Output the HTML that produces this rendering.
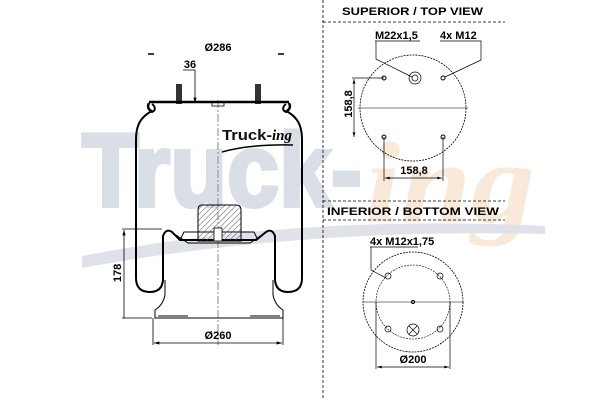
<!DOCTYPE html>
<html><head><meta charset="utf-8"><style>
html,body{margin:0;padding:0;background:#fff;width:600px;height:400px;overflow:hidden}
svg{display:block}
text{font-family:"Liberation Sans",sans-serif;font-weight:bold}
</style></head><body>
<svg width="600" height="400" viewBox="0 0 600 400" xmlns="http://www.w3.org/2000/svg">
<defs>
<pattern id="h" width="4" height="4" patternUnits="userSpaceOnUse" patternTransform="rotate(45)">
<line x1="0" y1="0" x2="0" y2="4" stroke="#555" stroke-width="1"/></pattern>
<marker id="a" viewBox="0 0 10 6" refX="10" refY="3" markerWidth="7" markerHeight="4" orient="auto-start-reverse"><path d="M0 0L10 3L0 6z" fill="#000"/></marker>
</defs>
<!-- watermark -->
<text x="82" y="206" font-size="104" fill="#dadee6" stroke="#dadee6" stroke-width="4" textLength="280" lengthAdjust="spacingAndGlyphs">Truck-</text>
<text x="365" y="222" font-size="115" font-style="italic" fill="#f8e9d8" textLength="170" lengthAdjust="spacingAndGlyphs" style="font-family:'Liberation Serif',serif">ing</text>
<path d="M82 256 Q300 214 545 226 L545 234 Q300 228 82 268 Z" fill="#dfe2e8"/>
<!-- center line -->
<line x1="218" y1="100" x2="218" y2="345" stroke="#888" stroke-width="1" stroke-dasharray="8 2 2 2"/>
<!-- dimension top -->
<text x="218" y="51" font-size="11" text-anchor="middle">Ø286</text>
<path d="M148 54h6M284 54h-6" stroke="#000" stroke-width="1.5"/>
<text x="190" y="68" font-size="11" text-anchor="middle">36</text>
<path d="M183 70h12v33" stroke="#000" fill="none" stroke-width="0.8" marker-end="url(#a)"/>
<!-- bolts -->
<rect x="176" y="84" width="6" height="20" fill="#333"/>
<rect x="255" y="84" width="6" height="20" fill="#333"/>
<!-- top plate -->
<path d="M149 102H289" stroke="#000" stroke-width="2.5"/>
<path d="M212 103v3h12v-3" stroke="#000" fill="none" stroke-width="0.8"/>
<!-- bellow -->
<path d="M152 104 C156 107,156 112,150 112 C140 118,136 126,136 140 V278 Q136 292,150 292 Q162 292,163 280" stroke="#000" fill="none" stroke-width="2"/>
<path d="M286 104 C282 107,282 112,288 112 C298 118,302 126,302 140 V278 Q302 292,288 292 Q276 292,275 280" stroke="#000" fill="none" stroke-width="2"/>
<path d="M149 103 q-3 6 4 9M289 103 q3 6 -4 9" stroke="#000" fill="none" stroke-width="2.5"/>
<!-- piston -->
<path d="M163 280 V236 Q166 228,172 232 L180 240 L256 240 L266 232 Q272 228,275 236 V280" stroke="#000" fill="none" stroke-width="2"/>
<path d="M176 235 L188 243 H250 L262 235 M180 240 L184 232 H254 L258 240" stroke="#000" fill="none" stroke-width="1"/>
<path d="M165 295 Q163 305,155 310 V318 H283 V310 Q275 305,273 295 V280 M165 280 V295" stroke="#000" fill="none" stroke-width="1"/>
<path d="M158 316h30M250 316h30" stroke="#000" stroke-width="1"/>
<!-- bumper -->
<path d="M202 205 H236 Q241 205 241 210 V241 H198 V210 Q198 205 202 205Z" fill="url(#h)" stroke="#000" stroke-width="1"/>
<rect x="214" y="228" width="8" height="13" fill="#fff" stroke="#000" stroke-width="0.8"/>
<!-- logo -->
<text x="222" y="140" font-size="15" fill="#111" textLength="50" lengthAdjust="spacingAndGlyphs">Truck-</text>
<text x="272" y="140" font-size="15" font-style="italic" font-weight="normal" style="font-family:'Liberation Serif',serif">ing</text>
<path d="M222 152 Q250 144 293 145" stroke="#000" fill="none" stroke-width="1.5"/>
<!-- 178 -->
<path d="M122 229h40" stroke="#000" stroke-width="0.8"/>
<path d="M122 318h30" stroke="#000" stroke-width="0.8"/>
<line x1="124" y1="318" x2="124" y2="230" stroke="#000" stroke-width="0.8" marker-end="url(#a)"/>
<text transform="translate(121,273) rotate(-90)" font-size="11" text-anchor="middle">178</text>
<!-- 260 -->
<path d="M153 318v27M283 318v27" stroke="#000" stroke-width="0.8"/>
<line x1="154" y1="343" x2="282" y2="343" stroke="#000" stroke-width="0.8" marker-start="url(#a)" marker-end="url(#a)"/>
<text x="218" y="339" font-size="11" text-anchor="middle">Ø260</text>
<!-- right panel -->
<line x1="323" y1="0" x2="323" y2="400" stroke="#000" stroke-width="0.8" stroke-dasharray="3 2"/>
<text x="342" y="15" font-size="11" textLength="141" lengthAdjust="spacingAndGlyphs">SUPERIOR / TOP VIEW</text>
<line x1="323" y1="22" x2="505" y2="22" stroke="#000" stroke-width="0.8" stroke-dasharray="3 2"/>
<circle cx="413" cy="108" r="53" fill="none" stroke="#000" stroke-width="0.8" stroke-dasharray="2 1"/>
<line x1="358" y1="108" x2="468" y2="108" stroke="#000" stroke-width="0.6"/>
<circle cx="384" cy="78" r="2" fill="none" stroke="#000"/><circle cx="443" cy="78" r="2" fill="none" stroke="#000"/>
<circle cx="384" cy="137" r="2" fill="none" stroke="#000"/><circle cx="443" cy="137" r="2" fill="none" stroke="#000"/>
<circle cx="415" cy="78" r="6" fill="none" stroke="#000" stroke-width="0.7"/><circle cx="415" cy="78" r="3" fill="none" stroke="#000" stroke-width="0.7"/>
<text x="375" y="39" font-size="11">M22x1,5</text>
<text x="440" y="39" font-size="11">4x M12</text>
<path d="M375 41h45M376 41v18l36 18M440 41h41v19l-36 17" stroke="#000" fill="none" stroke-width="0.7"/>
<path d="M352 78h32" stroke="#000" stroke-width="0.7"/>
<line x1="354" y1="79" x2="354" y2="137" stroke="#000" stroke-width="0.7" marker-start="url(#a)" marker-end="url(#a)"/>
<text transform="translate(352,104) rotate(-90)" font-size="11" text-anchor="middle">158,8</text>
<path d="M384 137v44M443 137v44" stroke="#000" stroke-width="0.7"/>
<line x1="385" y1="178" x2="442" y2="178" stroke="#000" stroke-width="0.7" marker-start="url(#a)" marker-end="url(#a)"/>
<text x="414" y="174" font-size="11" text-anchor="middle">158,8</text>
<line x1="323" y1="201" x2="505" y2="201" stroke="#000" stroke-width="0.8" stroke-dasharray="3 2"/>
<text x="327" y="215" font-size="11" textLength="172" lengthAdjust="spacingAndGlyphs">INFERIOR / BOTTOM VIEW</text>
<line x1="323" y1="220" x2="505" y2="220" stroke="#000" stroke-width="0.8" stroke-dasharray="3 2"/>
<text x="370" y="245" font-size="11">4x M12x1,75</text>
<path d="M370 247h48M371 247v23l15 8" stroke="#000" fill="none" stroke-width="0.7"/>
<circle cx="413" cy="302" r="50" fill="none" stroke="#000" stroke-width="0.8" stroke-dasharray="2 1"/>
<circle cx="413" cy="302" r="37" fill="none" stroke="#000" stroke-width="0.6" stroke-dasharray="2 1"/>
<line x1="363" y1="302" x2="463" y2="302" stroke="#000" stroke-width="0.6"/>
<circle cx="413" cy="302" r="1.5" fill="none" stroke="#000"/>
<g fill="none" stroke="#000" stroke-width="0.7">
<circle cx="388" cy="276" r="3"/><circle cx="440" cy="276" r="3"/><circle cx="388" cy="329" r="3"/><circle cx="440" cy="329" r="3"/>
<circle cx="413" cy="330" r="6"/><path d="M409 326l8 8M417 326l-8 8"/>
</g>
<path d="M376 302v67M450 302v67" stroke="#000" stroke-width="0.7"/>
<line x1="377" y1="367" x2="449" y2="367" stroke="#000" stroke-width="0.7" marker-start="url(#a)" marker-end="url(#a)"/>
<text x="413" y="363" font-size="11" text-anchor="middle">Ø200</text>
</svg>
</body></html>
